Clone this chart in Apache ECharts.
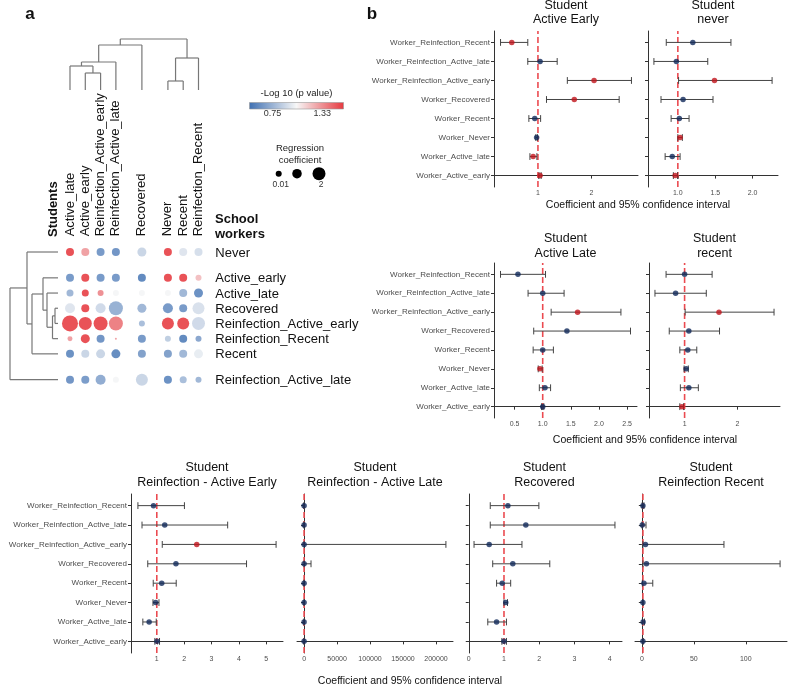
<!DOCTYPE html>
<html><head><meta charset="utf-8">
<script src="https://cdn.jsdelivr.net/npm/echarts@6/dist/echarts.min.js"></script>
<style>html,body{margin:0;padding:0;background:#fff}#c{width:789px;height:686px}</style>
</head><body><div id="c"></div>
<script>
// ---------------- DATA: panel a (heatmap) ----------------
const students = ['Active_late','Active_early','Reinfection_Active_early','Reinfection_Active_late','Recovered','Never','Recent','Reinfection_Recent'];
const studentClusters = [[0,1,2,3],[4],[5,6,7]];
const heatWorkers = ['Never','Active_early','Active_late','Recovered','Reinfection_Active_early','Reinfection_Recent','Recent','Reinfection_Active_late'];
const workerClusters = [[0],[1,2,3,4,5,6],[7]];
// -log10(p value), rows = heatWorkers, cols = students
const negLogP = [
  [1.55,1.30,0.62,0.60,0.88,1.55,0.95,0.92],
  [0.62,1.55,0.62,0.62,0.55,1.55,1.55,1.20],
  [0.75,1.55,1.35,1.02,1.02,1.02,0.75,0.58],
  [0.95,1.55,0.90,0.72,0.75,0.62,0.62,0.93],
  [1.55,1.55,1.55,1.40,0.78,1.55,1.55,0.90],
  [1.30,1.55,0.60,1.30,0.62,0.85,0.55,0.68],
  [0.58,0.88,0.88,0.56,0.65,0.65,0.75,0.98],
  [0.60,0.63,0.70,1.02,0.88,0.58,0.78,0.75]
];
// regression coefficient (dot size)
const regCoef = [
  [0.57,0.57,0.57,0.57,0.86,0.57,0.57,0.57],
  [0.57,0.57,0.57,0.57,0.57,0.57,0.57,0.00],
  [0.29,0.29,0.00,0.00,0.00,0.00,0.57,0.86],
  [1.14,0.57,1.14,2.29,0.86,1.14,0.57,1.71],
  [2.86,2.00,2.29,2.29,0.00,1.71,1.71,2.00],
  [-0.29,0.86,0.57,-1.14,0.57,0.00,0.57,0.00],
  [0.57,0.57,0.86,0.86,0.57,0.57,0.57,0.86],
  [0.57,0.57,1.14,0.00,1.71,0.57,0.29,0.00]
];
const colorScaleRange = [0.48, 1.58];
const colorTicks = [0.75, 1.33];
const sizeLegendValues = [0.01, 1, 2];
const sizeLegendLabels = ['0.01', '', '2'];
// dendrograms: [height, left, right]
const colTree = [51, [45, [28, [24, 'Active_late', [17, 'Active_early', 'Reinfection_Active_early']], 'Reinfection_Active_late'], 'Recovered'], [32, [9, 'Never', 'Recent'], 'Reinfection_Recent']];
const rowTree = [48, [31, 'Never', [26, [15, 'Active_early', [11, 'Active_late', [5.5, [3, 'Recovered', 'Reinfection_Active_early'], 'Reinfection_Recent']]], 'Recent']], 'Reinfection_Active_late'];

// ---------------- DATA: panel b (forest plots) ----------------
// bottom -> top order
const workers = ['Worker_Active_early','Worker_Active_late','Worker_Never','Worker_Recent','Worker_Recovered','Worker_Reinfection_Active_early','Worker_Reinfection_Active_late','Worker_Reinfection_Recent'];
const panelTitles = [['Student','Active Early'],['Student','never'],['Student','Active Late'],['Student','recent'],['Student','Reinfection - Active Early'],['Student','Reinfection - Active Late'],['Student','Recovered'],['Student','Reinfection Recent']];
const panelTicks = [[1,2],[1,1.5,2],[0.5,1,1.5,2,2.5],[1,2],[1,2,3,4,5],[0,50000,100000,150000,200000],[0,1,2,3,4],[0,50,100]];
const panelTickDecimals = [0,1,1,0,0,0,0,0];

const aeEst = [1.04,0.91,0.975,0.94,1.68,2.05,1.04,0.51];
const aeLo  = [1.02,0.85,0.96,0.83,1.16,1.55,0.81,0.30];
const aeHi  = [1.06,0.98,0.99,1.05,2.52,2.75,1.36,0.81];
const aeSig = [1,1,0,0,1,1,0,1];

const nvEst = [0.965,0.925,1.03,1.02,1.07,1.49,0.98,1.20];
const nvLo  = [0.94,0.83,1.00,0.91,0.775,1.01,0.68,0.845];
const nvHi  = [0.995,1.03,1.06,1.15,1.47,2.26,1.40,1.71];
const nvSig = [1,0,1,0,0,1,0,0];

const alEst = [1.0,1.04,0.95,1.0,1.43,1.62,1.0,0.56];
const alLo  = [0.98,0.94,0.92,0.83,0.84,1.15,0.74,0.25];
const alHi  = [1.02,1.14,0.99,1.19,2.56,2.39,1.38,1.05];
const alSig = [0,0,1,0,0,1,0,0];

const rcEst = [0.95,1.08,1.03,1.06,1.08,1.65,0.83,1.0];
const rcLo  = [0.91,0.92,0.99,0.91,0.71,1.01,0.44,0.65];
const rcHi  = [0.98,1.26,1.07,1.23,1.66,2.69,1.41,1.52];
const rcSig = [1,0,0,0,0,1,0,0];

const raeEst = [1.01,0.72,0.96,1.18,1.70,2.46,1.29,0.88];
const raeLo  = [0.93,0.49,0.86,0.87,0.67,1.20,0.46,0.31];
const raeHi  = [1.10,0.98,1.08,1.71,4.28,5.36,3.59,2.01];
const raeSig = [0,0,0,0,0,1,0,0];

const ralEst = [1.0,1.0,1.0,1.0,3.0,2.0,1.0,1.0];
const ralLo  = [0.5,0.3,0.7,0.5,0.2,0.01,0.2,0.3];
const ralHi  = [2.0,3.0,1.4,2.2,10500,215000,4.0,3.0];
const ralSig = [0,0,0,0,0,0,0,0];

const recEst = [1.0,0.79,1.05,0.95,1.25,0.58,1.62,1.11];
const recLo  = [0.94,0.54,1.0,0.79,0.68,0.15,0.61,0.61];
const recHi  = [1.07,1.07,1.1,1.19,2.30,1.51,4.15,1.99];
const recSig = [0,0,0,0,0,0,0,0];

const rrEst = [1.0,1.2,1.0,2.0,4.4,3.5,0.4,1.0];
const rrLo  = [0.7,0.5,0.8,0.5,1.0,1.0,0.05,0.3];
const rrHi  = [1.3,2.5,1.3,10.5,133,79,4.0,2.0];
const rrSig = [0,0,0,0,0,0,0,0];

const panelData = [
  [aeEst,aeLo,aeHi,aeSig],[nvEst,nvLo,nvHi,nvSig],[alEst,alLo,alHi,alSig],[rcEst,rcLo,rcHi,rcSig],
  [raeEst,raeLo,raeHi,raeSig],[ralEst,ralLo,ralHi,ralSig],[recEst,recLo,recHi,recSig],[rrEst,rrLo,rrHi,rrSig]
];

// ---------------- LAYOUT / STYLE ----------------
const FONT = '"Liberation Sans", Arial, Helvetica, sans-serif';
const heatColors = ['#3f70b2', '#f7f7f7', '#e6393f'];
const RED = '#c0141c', NAVY = '#10295a';
// forest panel rects: [left, top, right, bottom]
const panelRects = [[494,31,638,187],[648,31,778,187],[494,263,637,418],[649,263,780,418],[131,494,283,653],[297,494,453,653],[467,494,622,653],[635,494,787,653]];
const panelShowY = [true,false,true,false,true,false,false,false];
const titleOffsets = [[25,11],[25,11],[24,9],[24,9],[26,11],[26,11],[26,11],[26,11]];

const sizeFn = c => Math.max(1.5, 6 + 3.5 * c);

function clusterPositions(clusters, gap) {
  const pos = []; let p = 0;
  clusters.forEach((cl, ci) => { if (ci > 0) p += gap; cl.forEach(idx => { pos[idx] = p; p += 1; }); });
  return pos;
}
const colPos = clusterPositions(studentClusters, 0.7);
const rowPos = clusterPositions(workerClusters, 0.7);
const colPosByName = {}; students.forEach((s, i) => colPosByName[s] = colPos[i]);
const rowPosByName = {}; heatWorkers.forEach((s, i) => rowPosByName[s] = rowPos[i]);

function treeSegs(node, leafPos, segs) {
  if (typeof node === 'string') return [leafPos[node], 0];
  const [h, a, b] = node;
  const A = treeSegs(a, leafPos, segs), B = treeSegs(b, leafPos, segs);
  segs.push([A[0], A[1], A[0], h]);
  segs.push([B[0], B[1], B[0], h]);
  segs.push([A[0], h, B[0], h]);
  return [(A[0] + B[0]) / 2, h];
}
const colSegs = []; treeSegs(colTree, colPosByName, colSegs);
const rowSegs = []; treeSegs(rowTree, rowPosByName, rowSegs);

const heatData = [];
heatWorkers.forEach((w, r) => students.forEach((s, c) => {
  heatData.push([colPos[c], rowPos[r], negLogP[r][c], regCoef[r][c]]);
}));

const HX = [-1, 9.4], HY = [-1, 9.4];
const heatGrid = {left: 54.7, top: 236.8, width: 159.1, height: 158.1};

const grids = [
  heatGrid,
  {left: heatGrid.left, width: heatGrid.width, top: 39, height: colTree[0]},
  {left: 10, width: rowTree[0], top: heatGrid.top, height: heatGrid.height}
];
const xAxes = [
  {gridIndex:0, type:'value', min:HX[0], max:HX[1], show:false},
  {gridIndex:1, type:'value', min:HX[0], max:HX[1], show:false},
  {gridIndex:2, type:'value', min:0, max:rowTree[0], inverse:true, show:false}
];
const yAxes = [
  {gridIndex:0, type:'value', min:HY[0], max:HY[1], inverse:true, show:false},
  {gridIndex:1, type:'value', min:0, max:colTree[0], show:false},
  {gridIndex:2, type:'value', min:HY[0], max:HY[1], inverse:true, show:false}
];
const series = [
  {type:'scatter', xAxisIndex:0, yAxisIndex:0, data: heatData, symbolSize: v => sizeFn(v[3]), itemStyle:{opacity:0.92}, silent:true, z:3},
  {type:'custom', xAxisIndex:0, yAxisIndex:0, data: students.map((s,i)=>[colPos[i], HY[0]]), silent:true,
    renderItem: (params, api) => {
      const p = api.coord([api.value(0), api.value(1)]);
      return {type:'text', x: p[0], y: p[1] - 0.5, rotation: Math.PI/2,
        style:{text: students[params.dataIndex], fontSize:13, fontFamily:FONT, fill:'#111', align:'left', verticalAlign:'middle'}};
    }},
  {type:'custom', xAxisIndex:0, yAxisIndex:0, data: heatWorkers.map((s,i)=>[HX[1], rowPos[i]]), silent:true,
    renderItem: (params, api) => {
      const p = api.coord([api.value(0), api.value(1)]);
      return {type:'text', x: p[0] + 1.5, y: p[1] + 1,
        style:{text: heatWorkers[params.dataIndex], fontSize:13, fontFamily:FONT, fill:'#111', align:'left', verticalAlign:'middle'}};
    }},
  {type:'custom', xAxisIndex:1, yAxisIndex:1, data: colSegs, silent:true,
    renderItem: (params, api) => {
      const a = api.coord([api.value(0), api.value(1)]), b = api.coord([api.value(2), api.value(3)]);
      return {type:'line', shape:{x1:a[0], y1:a[1], x2:b[0], y2:b[1]}, style:{stroke:'#777', lineWidth:1.2}};
    }},
  {type:'custom', xAxisIndex:2, yAxisIndex:2, data: rowSegs, silent:true,
    renderItem: (params, api) => {
      const a = api.coord([api.value(1), api.value(0)]), b = api.coord([api.value(3), api.value(2)]);
      return {type:'line', shape:{x1:a[0], y1:a[1], x2:b[0], y2:b[1]}, style:{stroke:'#777', lineWidth:1.2}};
    }}
];

const graphics = [];
function txt(x, y, text, size, opts) {
  graphics.push({type:'text', x, y, silent:true, z:10,
    style: Object.assign({text, fontSize:size, fontFamily:FONT, fill:'#111', align:'center', verticalAlign:'middle'}, opts || {})});
}
txt(30, 14, 'a', 17, {fontWeight:'bold'});
txt(372, 14, 'b', 17, {fontWeight:'bold'});
graphics.push({type:'text', x:53, y:237, rotation:Math.PI/2, silent:true,
  style:{text:'Students', fontSize:13, fontFamily:FONT, fontWeight:'bold', fill:'#111', align:'left', verticalAlign:'middle'}});
txt(215, 219, 'School', 13, {fontWeight:'bold', align:'left'});
txt(215, 234, 'workers', 13, {fontWeight:'bold', align:'left'});

// colour bar legend
const bar = {x: 249.5, y: 102.5, w: 94, h: 6.5};
graphics.push({type:'rect', shape:{x:bar.x, y:bar.y, width:bar.w, height:bar.h}, silent:true,
  style:{fill: new echarts.graphic.LinearGradient(0,0,1,0, heatColors.map((c,i)=>({offset:i/(heatColors.length-1), color:c}))), stroke:'#999', lineWidth:0.6}});
txt(bar.x + bar.w/2, 93, '-Log 10 (p value)', 9.5, {fill:'#222'});
colorTicks.forEach(v => {
  const x = bar.x + (v - colorScaleRange[0]) / (colorScaleRange[1] - colorScaleRange[0]) * bar.w;
  txt(x, 114, String(v), 9, {fill:'#333'});
});
// size legend
txt(300, 148, 'Regression', 9.5, {fill:'#222'});
txt(300, 160, 'coefficient', 9.5, {fill:'#222'});
const sizeX = [278.7, 297, 319];
sizeLegendValues.forEach((v, i) => {
  graphics.push({type:'circle', shape:{cx:sizeX[i], cy:173.7, r:sizeFn(v)/2}, style:{fill:'#000'}, silent:true});
  if (sizeLegendLabels[i]) txt(sizeX[i] + 2, 185, sizeLegendLabels[i], 8.5, {fill:'#333'});
});

// ---------------- forest panels ----------------
panelData.forEach((pd, k) => {
  const [est, lo, hi, sig] = pd;
  const r = panelRects[k];
  const gi = grids.length;
  grids.push({left:r[0], top:r[1], width:r[2]-r[0], height:r[3]-r[1]});
  const dmin = Math.min(...lo, 1), dmax = Math.max(...hi, 1);
  const pad = (dmax - dmin) * 0.05;
  const ticks = panelTicks[k], dec = panelTickDecimals[k];
  xAxes.push({gridIndex:gi, type:'value', min: dmin - pad, max: dmax + pad,
    axisLine:{show:true, lineStyle:{color:'#333', width:1}},
    axisTick:{show:true, length:3, lineStyle:{color:'#333'}, customValues: ticks},
    axisLabel:{show:true, customValues: ticks, formatter: v => v.toFixed(dec), fontSize:7, color:'#4d4d4d', fontFamily:FONT, margin:3},
    splitLine:{show:false}});
  const idx = workers.map((w,i)=>i);
  yAxes.push({gridIndex:gi, type:'value', min:-0.6, max:7.6,
    axisLine:{show:true, lineStyle:{color:'#333', width:1}},
    axisTick:{show:true, length:3, lineStyle:{color:'#333'}, customValues: idx},
    axisLabel:{show: panelShowY[k], customValues: idx, formatter: v => workers[Math.round(v)] || '', fontSize:8, color:'#4d4d4d', fontFamily:FONT, margin:4},
    splitLine:{show:false}});
  const ai = xAxes.length - 1;
  series.push({type:'line', xAxisIndex:ai, yAxisIndex:ai, data:[[1,-0.6],[1,7.6]], symbol:'none', silent:true, z:1,
    lineStyle:{color:'#eb4a50', type:[6,3], width:1.6}});
  series.push({type:'custom', xAxisIndex:ai, yAxisIndex:ai, z:2, silent:true,
    data: idx.map(i => [i, lo[i], hi[i]]),
    renderItem: (params, api) => {
      const y = api.value(0);
      const a = api.coord([api.value(1), y]), b = api.coord([api.value(2), y]);
      const cap = 3.4, st = {stroke:'#444', lineWidth:1};
      return {type:'group', children:[
        {type:'line', shape:{x1:a[0], y1:a[1], x2:b[0], y2:b[1]}, style:st},
        {type:'line', shape:{x1:a[0], y1:a[1]-cap, x2:a[0], y2:a[1]+cap}, style:st},
        {type:'line', shape:{x1:b[0], y1:b[1]-cap, x2:b[0], y2:b[1]+cap}, style:st}
      ]};
    }});
  series.push({type:'scatter', xAxisIndex:ai, yAxisIndex:ai, z:3, silent:true, symbolSize:5.5,
    data: idx.map(i => ({value:[est[i], i], itemStyle:{color: sig[i] ? RED : NAVY}}))});
  const cx = (r[0] + r[2]) / 2;
  txt(cx, r[1] - titleOffsets[k][0], panelTitles[k][0], 12.5);
  txt(cx, r[1] - titleOffsets[k][1], panelTitles[k][1], 12.5);
});
txt(638, 205, 'Coefficient and 95% confidence interval', 10.5, {fill:'#111'});
txt(645, 440, 'Coefficient and 95% confidence interval', 10.5, {fill:'#111'});
txt(410, 681, 'Coefficient and 95% confidence interval', 10.5, {fill:'#111'});

const chart = echarts.init(document.getElementById('c'), null, {renderer:'canvas'});
chart.setOption({
  animation:false,
  backgroundColor:'#fff',
  textStyle:{fontFamily:FONT},
  grid: grids, xAxis: xAxes, yAxis: yAxes,
  visualMap:[{type:'continuous', show:false, seriesIndex:0, dimension:2, min:colorScaleRange[0], max:colorScaleRange[1], inRange:{color:heatColors}}],
  series: series,
  graphic: graphics
});
</script>
</body></html>
